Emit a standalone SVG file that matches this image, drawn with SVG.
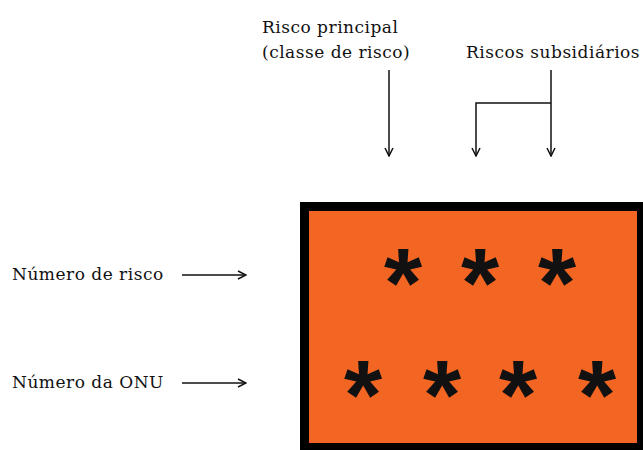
<svg xmlns="http://www.w3.org/2000/svg" width="643" height="450" viewBox="0 0 643 450">
<style>
.lbl{font-family:"DejaVu Serif","Liberation Serif",serif;font-size:17px;letter-spacing:0.5px;fill:#111}
.ast{font-family:"Liberation Sans",Arial,sans-serif;font-weight:bold;font-size:98px;fill:#111;text-anchor:middle}
.ln{stroke:#111;stroke-width:1.5;fill:none}
</style>
<defs>
<marker id="ah" viewBox="0 0 10 10" refX="9" refY="5" markerWidth="10" markerHeight="10" markerUnits="userSpaceOnUse" orient="auto">
<path d="M1,1 L9,5 L1,9" fill="none" stroke="#111" stroke-width="1.5"/>
</marker>
</defs>
<rect width="643" height="450" fill="#fff"/>
<g id="placa">
<rect x="304.5" y="206.5" width="337" height="241" fill="#F26522" stroke="#000" stroke-width="9"/>
<text class="ast" x="403" y="317">*</text>
<text class="ast" x="480" y="317">*</text>
<text class="ast" x="557" y="317">*</text>
<text class="ast" x="363" y="429">*</text>
<text class="ast" x="442" y="429">*</text>
<text class="ast" x="518" y="429">*</text>
<text class="ast" x="597" y="429">*</text>
</g>
<g id="risco-principal">
<text class="lbl" x="262" y="33">Risco principal</text>
<text class="lbl" x="262" y="58">(classe de risco)</text>
</g>
<g id="riscos-subsidiarios">
<text class="lbl" x="466" y="58">Riscos subsidiários</text>
</g>
<g id="numero-risco">
<text class="lbl" x="12" y="280">Número de risco</text>
</g>
<g id="numero-onu">
<text class="lbl" x="12" y="388">Número da ONU</text>
</g>
<g id="connectors">
<line class="ln" x1="389" y1="70" x2="389" y2="156" marker-end="url(#ah)"/>
<line class="ln" x1="551" y1="70" x2="551" y2="156" marker-end="url(#ah)"/>
<polyline class="ln" points="551,103 476,103 476,156" marker-end="url(#ah)"/>
<line class="ln" x1="182" y1="275" x2="246" y2="275" marker-end="url(#ah)"/>
<line class="ln" x1="182" y1="383" x2="246" y2="383" marker-end="url(#ah)"/>
</g>
</svg>
